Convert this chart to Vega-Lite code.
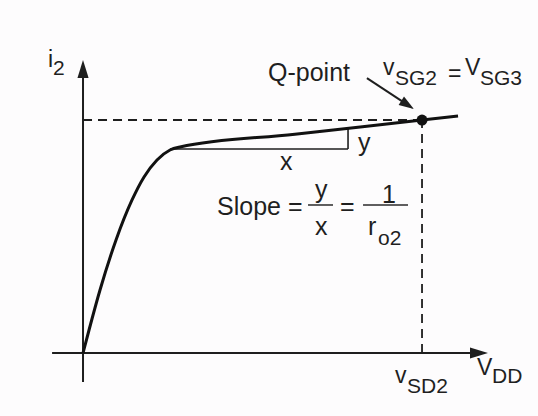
{
  "$schema": "https://vega.github.io/schema/vega-lite/v6.json",
  "width": 538,
  "height": 416,
  "padding": 0,
  "autosize": {"type": "fit", "contains": "padding"},
  "background": "#fdfcfd",
  "config": {"view": {"stroke": null}},
  "datasets": {
    "axes": [
      {"x": -0.73, "y": 0, "x2": 9.15, "y2": 0},
      {"x": 0, "y": -0.685, "x2": 0, "y2": 6.5}
    ],
    "dashes": [
      {"x": 0, "y": 5.5, "x2": 8, "y2": 5.5},
      {"x": 8, "y": 0, "x2": 8, "y2": 5.5}
    ],
    "triangle": [
      {"x": 2.053, "y": 4.816, "x2": 6.254, "y2": 4.816},
      {"x": 6.254, "y": 4.816, "x2": 6.254, "y2": 5.305}
    ],
    "fracbars": [
      {"x": 5.31, "y": 3.494, "x2": 5.9, "y2": 3.494},
      {"x": 6.608, "y": 3.494, "x2": 7.67, "y2": 3.494}
    ],
    "pointerline": [
      {"x": 6.70, "y": 6.49},
      {"x": 7.66, "y": 5.857}
    ],
    "curve": [
      {"x": 0, "y": 0},
      {"x": 0.142, "y": 0.543},
      {"x": 0.401, "y": 1.487},
      {"x": 0.779, "y": 2.668},
      {"x": 1.157, "y": 3.612},
      {"x": 1.44, "y": 4.155},
      {"x": 1.746, "y": 4.556},
      {"x": 2.053, "y": 4.792},
      {"x": 2.289, "y": 4.863},
      {"x": 5.0, "y": 5.166},
      {"x": 8.0, "y": 5.5},
      {"x": 8.85, "y": 5.595}
    ],
    "qpoint": [{"x": 8, "y": 5.5}],
    "uparrow": [{"x": 0, "y": 6.704}],
    "rightarrow": [{"x": 9.345, "y": 0}],
    "diagarrow": [{"x": 7.66, "y": 5.857}],
    "bigtext": [
      {"t": "Q-point", "x": 4.366, "y": 6.421},
      {"t": "Slope =", "x": 3.162, "y": 3.258},
      {"t": "y", "x": 5.475, "y": 3.659},
      {"t": "x", "x": 5.475, "y": 2.786},
      {"t": "=", "x": 6.065, "y": 3.258},
      {"t": "1", "x": 7.056, "y": 3.541},
      {"t": "r", "x": 6.726, "y": 2.786},
      {"t": "x", "x": 4.649, "y": 4.32},
      {"t": "y", "x": 6.49, "y": 4.769}
    ],
    "midtext": [
      {"t": "i", "x": -0.826, "y": 6.752},
      {"t": "v", "x": 7.08, "y": 6.563},
      {"t": "=", "x": 8.614, "y": 6.421},
      {"t": "V", "x": 9.015, "y": 6.563},
      {"t": "v", "x": 7.363, "y": -0.708},
      {"t": "V", "x": 9.298, "y": -0.519}
    ],
    "subtext": [
      {"t": "o2", "x": 6.962, "y": 2.55},
      {"t": "2", "x": -0.708, "y": 6.563},
      {"t": "SG2", "x": 7.363, "y": 6.327},
      {"t": "SG3", "x": 9.369, "y": 6.327},
      {"t": "SD2", "x": 7.646, "y": -0.944},
      {"t": "DD", "x": 9.652, "y": -0.708}
    ]
  },
  "layer": [
    {
      "data": {"name": "axes"},
      "mark": {"type": "rule", "color": "#1e1e1e", "strokeWidth": 2},
      "encoding": {
        "x": {"field": "x", "type": "quantitative", "scale": {"domain": [-1.959, 10.737], "nice": false, "zero": false}, "axis": null},
        "y": {"field": "y", "type": "quantitative", "scale": {"domain": [-1.487, 8.333], "nice": false, "zero": false}, "axis": null},
        "x2": {"field": "x2"},
        "y2": {"field": "y2"}
      }
    },
    {
      "data": {"name": "dashes"},
      "mark": {"type": "rule", "color": "#1e1e1e", "strokeWidth": 1.8, "strokeDash": [9, 6]},
      "encoding": {
        "x": {"field": "x", "type": "quantitative", "scale": {"domain": [-1.959, 10.737], "nice": false, "zero": false}, "axis": null},
        "y": {"field": "y", "type": "quantitative", "scale": {"domain": [-1.487, 8.333], "nice": false, "zero": false}, "axis": null},
        "x2": {"field": "x2"},
        "y2": {"field": "y2"}
      }
    },
    {
      "data": {"name": "triangle"},
      "mark": {"type": "rule", "color": "#1e1e1e", "strokeWidth": 1.6},
      "encoding": {
        "x": {"field": "x", "type": "quantitative", "scale": {"domain": [-1.959, 10.737], "nice": false, "zero": false}, "axis": null},
        "y": {"field": "y", "type": "quantitative", "scale": {"domain": [-1.487, 8.333], "nice": false, "zero": false}, "axis": null},
        "x2": {"field": "x2"},
        "y2": {"field": "y2"}
      }
    },
    {
      "data": {"name": "fracbars"},
      "mark": {"type": "rule", "color": "#2a2a2a", "strokeWidth": 1.5},
      "encoding": {
        "x": {"field": "x", "type": "quantitative", "scale": {"domain": [-1.959, 10.737], "nice": false, "zero": false}, "axis": null},
        "y": {"field": "y", "type": "quantitative", "scale": {"domain": [-1.487, 8.333], "nice": false, "zero": false}, "axis": null},
        "x2": {"field": "x2"},
        "y2": {"field": "y2"}
      }
    },
    {
      "data": {"name": "pointerline"},
      "mark": {"type": "line", "color": "#1e1e1e", "strokeWidth": 2},
      "encoding": {
        "x": {"field": "x", "type": "quantitative", "scale": {"domain": [-1.959, 10.737], "nice": false, "zero": false}, "axis": null},
        "y": {"field": "y", "type": "quantitative", "scale": {"domain": [-1.487, 8.333], "nice": false, "zero": false}, "axis": null},
        "order": {"field": "x", "type": "quantitative"}
      }
    },
    {
      "data": {"name": "curve"},
      "mark": {"type": "line", "color": "#111111", "strokeWidth": 3, "interpolate": "monotone"},
      "encoding": {
        "x": {"field": "x", "type": "quantitative", "scale": {"domain": [-1.959, 10.737], "nice": false, "zero": false}, "axis": null},
        "y": {"field": "y", "type": "quantitative", "scale": {"domain": [-1.487, 8.333], "nice": false, "zero": false}, "axis": null},
        "order": {"field": "x", "type": "quantitative"}
      }
    },
    {
      "data": {"name": "qpoint"},
      "mark": {"type": "point", "shape": "circle", "filled": true, "color": "#111111", "size": 120, "opacity": 1},
      "encoding": {
        "x": {"field": "x", "type": "quantitative", "scale": {"domain": [-1.959, 10.737], "nice": false, "zero": false}, "axis": null},
        "y": {"field": "y", "type": "quantitative", "scale": {"domain": [-1.487, 8.333], "nice": false, "zero": false}, "axis": null}
      }
    },
    {
      "data": {"name": "uparrow"},
      "mark": {"type": "point", "shape": "M0,-1L0.62,1L-0.62,1Z", "filled": true, "color": "#1e1e1e", "size": 324, "opacity": 1},
      "encoding": {
        "x": {"field": "x", "type": "quantitative", "scale": {"domain": [-1.959, 10.737], "nice": false, "zero": false}, "axis": null},
        "y": {"field": "y", "type": "quantitative", "scale": {"domain": [-1.487, 8.333], "nice": false, "zero": false}, "axis": null}
      }
    },
    {
      "data": {"name": "rightarrow"},
      "mark": {"type": "point", "shape": "M1,0L-1,-0.62L-1,0.62Z", "filled": true, "color": "#1e1e1e", "size": 324, "opacity": 1},
      "encoding": {
        "x": {"field": "x", "type": "quantitative", "scale": {"domain": [-1.959, 10.737], "nice": false, "zero": false}, "axis": null},
        "y": {"field": "y", "type": "quantitative", "scale": {"domain": [-1.487, 8.333], "nice": false, "zero": false}, "axis": null}
      }
    },
    {
      "data": {"name": "diagarrow"},
      "mark": {"type": "point", "shape": "M0.63,0.41L-0.9,0.01L-0.36,-0.83Z", "filled": true, "color": "#1e1e1e", "size": 400, "opacity": 1},
      "encoding": {
        "x": {"field": "x", "type": "quantitative", "scale": {"domain": [-1.959, 10.737], "nice": false, "zero": false}, "axis": null},
        "y": {"field": "y", "type": "quantitative", "scale": {"domain": [-1.487, 8.333], "nice": false, "zero": false}, "axis": null}
      }
    },
    {
      "data": {"name": "bigtext"},
      "mark": {"type": "text", "align": "left", "baseline": "alphabetic", "font": "Liberation Sans", "fontSize": 25, "color": "#1f1f1f"},
      "encoding": {
        "x": {"field": "x", "type": "quantitative", "scale": {"domain": [-1.959, 10.737], "nice": false, "zero": false}, "axis": null},
        "y": {"field": "y", "type": "quantitative", "scale": {"domain": [-1.487, 8.333], "nice": false, "zero": false}, "axis": null},
        "text": {"field": "t"}
      }
    },
    {
      "data": {"name": "midtext"},
      "mark": {"type": "text", "align": "left", "baseline": "alphabetic", "font": "Liberation Sans", "fontSize": 23, "color": "#1f1f1f"},
      "encoding": {
        "x": {"field": "x", "type": "quantitative", "scale": {"domain": [-1.959, 10.737], "nice": false, "zero": false}, "axis": null},
        "y": {"field": "y", "type": "quantitative", "scale": {"domain": [-1.487, 8.333], "nice": false, "zero": false}, "axis": null},
        "text": {"field": "t"}
      }
    },
    {
      "data": {"name": "subtext"},
      "mark": {"type": "text", "align": "left", "baseline": "alphabetic", "font": "Liberation Sans", "fontSize": 21, "color": "#1f1f1f"},
      "encoding": {
        "x": {"field": "x", "type": "quantitative", "scale": {"domain": [-1.959, 10.737], "nice": false, "zero": false}, "axis": null},
        "y": {"field": "y", "type": "quantitative", "scale": {"domain": [-1.487, 8.333], "nice": false, "zero": false}, "axis": null},
        "text": {"field": "t"}
      }
    }
  ]
}
